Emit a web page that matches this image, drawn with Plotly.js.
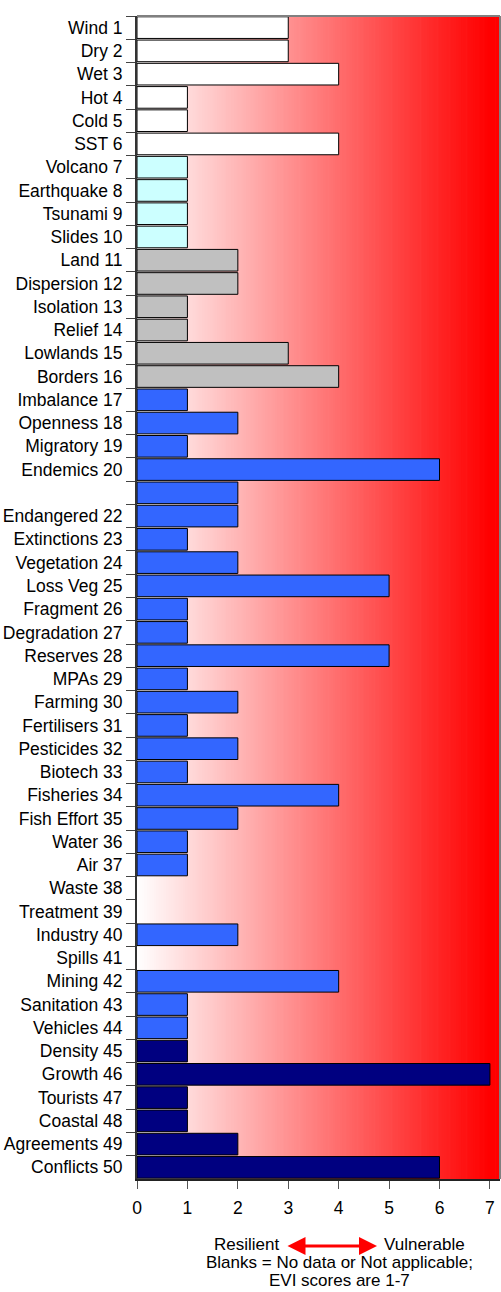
<!DOCTYPE html>
<html><head><meta charset="utf-8">
<script src="https://cdn.plot.ly/plotly-3.0.1.min.js"></script>
<style>html,body{margin:0;padding:0;background:#fff;}#chart{width:501px;height:1292px;}</style>
</head><body><div id="chart"></div>
<script>
var categories = ["Wind 1","Dry 2","Wet 3","Hot 4","Cold 5","SST 6","Volcano 7","Earthquake 8","Tsunami 9","Slides 10",
"Land 11","Dispersion 12","Isolation 13","Relief 14","Lowlands 15","Borders 16","Imbalance 17","Openness 18","Migratory 19","Endemics 20",
"\u00a0","Endangered 22","Extinctions 23","Vegetation 24","Loss Veg 25","Fragment 26","Degradation 27","Reserves 28","MPAs 29","Farming 30",
"Fertilisers 31","Pesticides 32","Biotech 33","Fisheries 34","Fish Effort 35","Water 36","Air 37","Waste 38","Treatment 39","Industry 40",
"Spills 41","Mining 42","Sanitation 43","Vehicles 44","Density 45","Growth 46","Tourists 47","Coastal 48","Agreements 49","Conflicts 50"];
var scores = [3,3,4,1,1,4,1,1,1,1,
2,2,1,1,3,4,1,2,1,6,
2,2,1,2,5,1,1,5,1,2,
1,2,1,4,2,1,1,null,null,2,
null,4,1,1,1,7,1,1,2,6];
var groups = ["weather","weather","weather","weather","weather","weather","geology","geology","geology","geology",
"geography","geography","geography","geography","geography","geography","env","env","env","env",
"env","env","env","env","env","env","env","env","env","env",
"env","env","env","env","env","env","env","env","env","env",
"env","env","env","env","human","human","human","human","human","human"];
var groupColors = {weather:"#ffffff", geology:"#ccffff", geography:"#c0c0c0", env:"#3366ff", human:"#000080"};
var xTicks = [0,1,2,3,4,5,6,7];

var W = 501, H = 1292, L = 137, R = 1, T = 16, B = 113;
var pw = W - L - R, ph = H - T - B;
function px(x){ return (x - L) / pw; }
function py(y){ return (H - B - y) / ph; }

var shapes = [];
var N = 150;
for (var i = 0; i < N; i++) {
  var f = Math.min(1, (i + 0.5) / N / 0.97);
  var g = Math.round(255 * (1 - f));
  shapes.push({type:"rect", xref:"paper", yref:"paper", x0:i/N, x1:(i+1)/N + 0.002, y0:0, y1:1,
    fillcolor:"rgb(255," + g + "," + g + ")", line:{width:0}, layer:"below"});
}
shapes.push({type:"line", xref:"paper", yref:"paper", x0:0, x1:1, y0:1, y1:1, line:{color:"#808080", width:2}});
shapes.push({type:"line", xref:"paper", yref:"paper", x0:1, x1:1, y0:0, y1:1, line:{color:"#808080", width:2}});

var font = "Arial, 'Liberation Sans', sans-serif";
var FS = 17.5, FN = 17;
var trace = {
  type:"bar", orientation:"h", y:categories, x:scores,
  marker:{color:groups.map(function(g){return groupColors[g];}), line:{color:"#000", width:1}},
  hoverinfo:"x+y"
};
function txt(x, y, s, ya){
  return {xref:"paper", yref:"paper", x:px(x), y:py(y), xanchor:"center", yanchor:ya || "middle", text:s, showarrow:false, font:{size:FN}};
}
var layout = {
  width:W, height:H, margin:{l:L, r:R, t:T, b:B, pad:0},
  paper_bgcolor:"#fff", plot_bgcolor:"#fff", showlegend:false, bargap:0.07,
  font:{family:font, size:FS, color:"#000"},
  xaxis:{range:[0,7.2], tickmode:"array", tickvals:xTicks, ticks:"outside", ticklen:8, tickcolor:"#555", tickwidth:1,
    showgrid:false, zeroline:false, showline:true, linecolor:"#222", linewidth:2, tickfont:{size:FS}, ticklabelstandoff:4, fixedrange:true},
  yaxis:{type:"category", autorange:"reversed", tickson:"boundaries", ticks:"outside", ticklen:9, tickcolor:"#444", tickwidth:1,
    showgrid:false, zeroline:false, showline:true, linecolor:"#333", linewidth:2, tickfont:{size:FS}, ticklabelstandoff:9, fixedrange:true},
  shapes:shapes,
  annotations:[
    txt(246, 1244, "Resilient"),
    txt(424, 1244, "Vulnerable"),
    {xref:"paper", yref:"paper", x:px(377), y:py(1246), ax:-91, ay:0, text:"", showarrow:true,
      arrowside:"end+start", arrowhead:2, arrowsize:1.2, arrowwidth:3, arrowcolor:"#ff0000"},
    txt(339, 1262, "Blanks = No data or Not applicable;"),
    txt(339, 1292, "EVI scores are 1-7", "bottom")
  ]
};
Plotly.newPlot("chart", [trace], layout, {displayModeBar:false, staticPlot:true});
</script>
</body></html>
